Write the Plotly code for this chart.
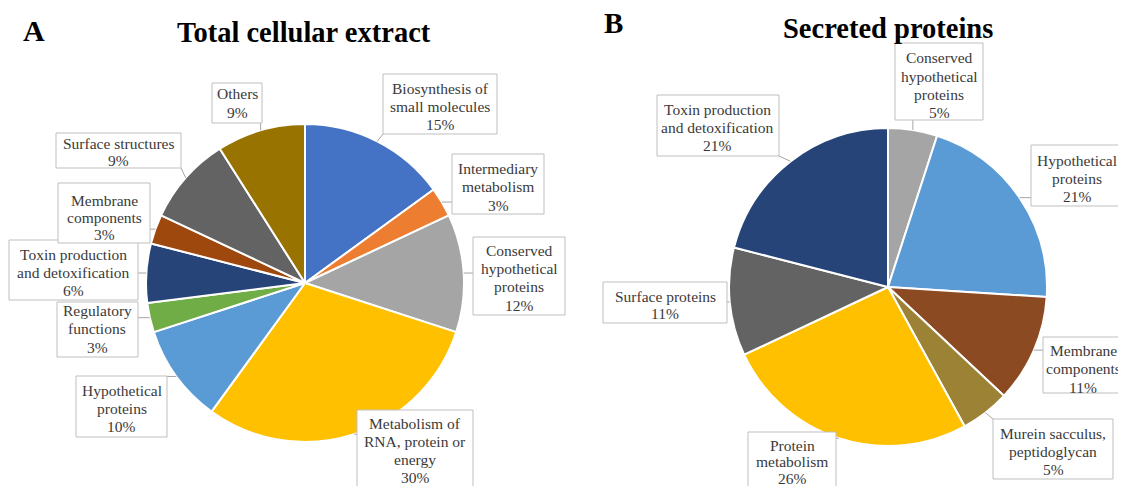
import math
import plotly.graph_objects as go

W, H = 1126, 486

# ---------------- data ----------------
a_labels = ["Biosynthesis of small molecules", "Intermediary metabolism",
            "Conserved hypothetical proteins", "Metabolism of RNA, protein or energy",
            "Hypothetical proteins", "Regulatory functions",
            "Toxin production and detoxification", "Membrane components",
            "Surface structures", "Others"]
a_values = [15, 3, 12, 30, 10, 3, 6, 3, 9, 9]
a_lines = [["Biosynthesis of", "small molecules"], ["Intermediary", "metabolism"],
           ["Conserved", "hypothetical", "proteins"], ["Metabolism of", "RNA, protein or", "energy"],
           ["Hypothetical", "proteins"], ["Regulatory", "functions"],
           ["Toxin production", "and detoxification"], ["Membrane", "components"],
           ["Surface structures"], ["Others"]]

b_labels = ["Conserved hypothetical proteins", "Hypothetical proteins", "Membrane components",
            "Murein sacculus, peptidoglycan", "Protein metabolism", "Surface proteins",
            "Toxin production and detoxification"]
b_values = [5, 21, 11, 5, 26, 11, 21]
b_lines = [["Conserved", "hypothetical", "proteins"], ["Hypothetical", "proteins"],
           ["Membrane", "components"], ["Murein sacculus,", "peptidoglycan"],
           ["Protein", "metabolism"], ["Surface proteins"],
           ["Toxin production", "and detoxification"]]

# ---------------- styles / layout ----------------
a_colors = ["#4472C4", "#ED7D31", "#A5A5A5", "#FFC000", "#5B9BD5", "#70AD47",
            "#264478", "#9E480E", "#636363", "#997300"]
b_colors = ["#A5A5A5", "#5B9BD5", "#8C4A22", "#9C8235", "#FFC000", "#636363", "#264478"]

# the page body adds an 8px margin; compensate so the picture lines up
OFF = 8

R = 159
a_center = (305, 283)
b_center = (888, 287)

# callout boxes: (x0, y0, x1, y1, first line y, line step, text centre x or None)
a_boxes = [(383, 74, 497, 134, 88, 18.5, None), (452, 154, 544, 214, 168, 18.5, None),
           (473, 237, 565, 315, 250, 18.4, None), (357, 410, 473, 500, 423, 18, None),
           (76, 376, 167, 437, 390, 18, None), (57, 302, 138, 357, 310, 18.5, None),
           (9, 240, 138, 300, 254, 18, None), (58, 183, 150, 243, 200, 17, None),
           (56, 133, 181, 168, 143, 17, None), (212, 83, 262, 123, 93, 19, None)]
b_boxes = [(895, 43, 983, 120, 58, 18.3, None), (1031, 145, 1123, 206, 160, 18, None),
           (1043, 337, 1135, 393, 350, 18.5, 1083), (993, 419, 1113, 479, 433, 18, None),
           (748, 432, 836, 500, 445, 16.5, None), (603, 282, 727, 323, 296, 17, None),
           (657, 95, 779, 156, 109, 18.5, None)]

FONT = "Liberation Serif"
LABEL_COLOR = "#3A3A3A"
BOX_COLOR = "#BFBFBF"


def px(x):
    return (x - OFF) / W


def py(y):
    return 1 - (y - OFF) / H


fig = go.Figure()
shapes = []
annotations = []


def add_pie(labels, values, colors, center, lines, boxes):
    cx, cy = center
    fig.add_trace(go.Pie(
        labels=labels, values=values, sort=False, direction="clockwise", rotation=0,
        marker=dict(colors=colors, line=dict(color="white", width=2)),
        textinfo="none", hoverinfo="label+percent", showlegend=False,
        domain=dict(x=[px(cx - R), px(cx + R)], y=[py(cy + R), py(cy - R)]),
    ))
    total = sum(values)
    cum = 0
    for v, ls, box in zip(values, lines, boxes):
        mid = (cum + v / 2) / total * 2 * math.pi
        cum += v
        sx = cx + R * math.sin(mid)
        sy = cy - R * math.cos(mid)
        x0, y0, x1, y1, ly, step, tcx = box
        ex = min(max(sx, x0), x1)
        ey = min(max(sy, y0), y1)
        shapes.append(dict(type="line", xref="paper", yref="paper",
                           x0=px(sx), y0=py(sy), x1=px(ex), y1=py(ey),
                           line=dict(color="#A6A6A6", width=1)))
        shapes.append(dict(type="rect", xref="paper", yref="paper",
                           x0=px(x0), y0=py(y1), x1=px(x1), y1=py(y0),
                           line=dict(color=BOX_COLOR, width=1), fillcolor="white"))
        pct = round(v / total * 100)
        if tcx is None:
            tcx = (x0 + x1) / 2
        for i, t in enumerate(ls + [f"{pct}%"]):
            annotations.append(dict(
                x=px(tcx), y=py(ly + i * step), xref="paper", yref="paper",
                text=t, showarrow=False, xanchor="center", yanchor="middle",
                font=dict(family=FONT, size=15.5, color=LABEL_COLOR)))


add_pie(a_labels, a_values, a_colors, a_center, a_lines, a_boxes)
add_pie(b_labels, b_values, b_colors, b_center, b_lines, b_boxes)

titles = [("A", 34, 31, 30), ("Total cellular extract", 304, 32, 28.5),
          ("B", 613, 23, 29), ("Secreted proteins", 888, 28, 28.5)]
for t, x, y, s in titles:
    annotations.append(dict(x=px(x), y=py(y), xref="paper", yref="paper",
                            text=f"<b>{t}</b>", showarrow=False,
                            xanchor="center", yanchor="middle",
                            font=dict(family=FONT, size=s, color="black")))

fig.update_layout(width=W, height=H, margin=dict(l=0, r=0, t=0, b=0),
                  paper_bgcolor="white", plot_bgcolor="white",
                  shapes=shapes, annotations=annotations)

fig.write_html("out.html")
